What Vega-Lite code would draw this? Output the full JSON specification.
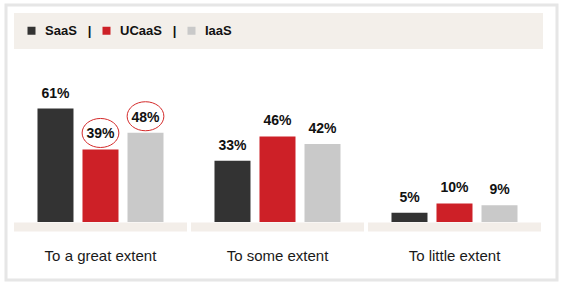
{
  "$schema": "https://vega.github.io/schema/vega-lite/v6.json",
  "width": 551,
  "height": 275,
  "autosize": {"type": "none"},
  "padding": {"left": 6, "top": 5, "right": 7, "bottom": 6},
  "background": "white",
  "config": {
    "view": {"stroke": "#e6e6e6", "strokeWidth": 3, "fill": "white"},
    "font": "Liberation Sans"
  },
  "data": {
    "values": [
      {"group": "To a great extent", "series": "SaaS", "value": 0.61},
      {"group": "To a great extent", "series": "UCaaS", "value": 0.39},
      {"group": "To a great extent", "series": "IaaS", "value": 0.48},
      {"group": "To some extent", "series": "SaaS", "value": 0.33},
      {"group": "To some extent", "series": "UCaaS", "value": 0.46},
      {"group": "To some extent", "series": "IaaS", "value": 0.42},
      {"group": "To little extent", "series": "SaaS", "value": 0.05},
      {"group": "To little extent", "series": "UCaaS", "value": 0.10},
      {"group": "To little extent", "series": "IaaS", "value": 0.09}
    ]
  },
  "encoding": {
    "x": {
      "field": "group",
      "type": "nominal",
      "sort": null,
      "scale": {"paddingInner": 0.0226, "paddingOuter": 0.0678, "align": 0.333},
      "axis": {
        "title": null,
        "orient": "bottom",
        "offset": -58,
        "domain": false,
        "grid": false,
        "ticks": true,
        "tickSize": 9,
        "tickWidth": 173,
        "tickColor": "#f3eee9",
        "labelFont": "Liberation Sans",
        "labelFontSize": 15,
        "labelColor": "#1a1a1a",
        "labelPadding": 17,
        "labelAngle": 0,
        "labelBaseline": "top"
      }
    },
    "xOffset": {
      "field": "series",
      "type": "nominal",
      "sort": ["SaaS", "UCaaS", "IaaS"],
      "scale": {"paddingInner": 0.2, "paddingOuter": 0.522}
    },
    "y": {
      "field": "value",
      "type": "quantitative",
      "scale": {"domain": [-0.312, 1.167], "nice": false, "zero": false},
      "axis": null
    }
  },
  "layer": [
    {
      "mark": {"type": "bar"},
      "encoding": {
        "y2": {"datum": 0},
        "color": {
          "field": "series",
          "type": "nominal",
          "sort": ["SaaS", "UCaaS", "IaaS"],
          "scale": {"domain": ["SaaS", "UCaaS", "IaaS"], "range": ["#333333", "#cd2027", "#c9c9c9"]},
          "legend": {
            "orient": "none",
            "legendX": 8,
            "legendY": 8,
            "direction": "horizontal",
            "fillColor": "#f3efea",
            "padding": 11,
            "symbolType": "square",
            "symbolSize": 64,
            "symbolStrokeWidth": 0,
            "symbolOpacity": 1,
            "labelFont": "Liberation Sans",
            "labelFontSize": 13,
            "labelFontWeight": "bold",
            "labelColor": "#111111",
            "labelOffset": 7,
            "columnPadding": 8,
            "labelExpr": "datum.label === 'IaaS' ? datum.label : datum.label + '\u00a0\u00a0\u00a0|'",
            "title": "\u00a0",
            "titleOrient": "right",
            "titlePadding": 300,
            "titleFontSize": 10
          }
        }
      }
    },
    {
      "mark": {"type": "text", "dy": -11, "baseline": "alphabetic", "fontWeight": "bold", "fontSize": 14, "font": "Liberation Sans", "color": "#111111"},
      "encoding": {
        "text": {"field": "value", "type": "quantitative", "format": ".0%"}
      }
    },
    {
      "transform": [{"filter": "datum.group === 'To a great extent' && datum.series !== 'SaaS'"}],
      "mark": {
        "type": "point",
        "shape": "M-1,0A1,0.79,0,1,1,1,0A1,0.79,0,1,1,-1,0Z",
        "size": 1350,
        "filled": false,
        "stroke": "#d42a2a",
        "strokeWidth": 1,
        "opacity": 1,
        "yOffset": -16.5
      },
      "encoding": {}
    }
  ]
}
